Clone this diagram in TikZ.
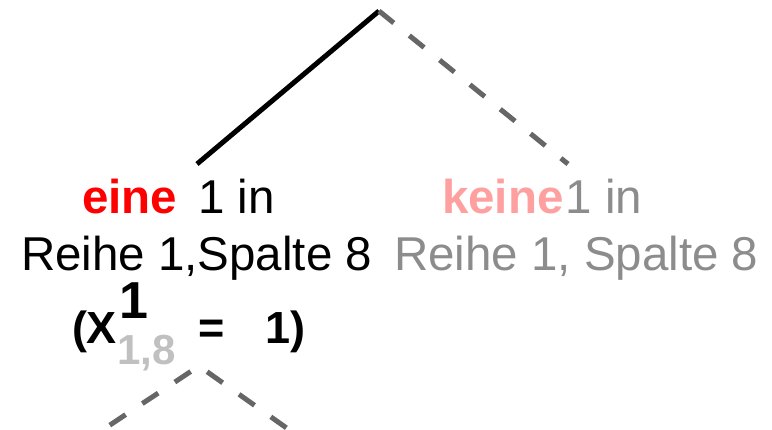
\documentclass[tikz,border=0pt]{standalone}
\usepackage{fontspec}
\setmainfont{Liberation Sans}
\definecolor{keinered}{HTML}{FFA0A0}
\definecolor{fadedtxt}{HTML}{8C8C8C}
\definecolor{subgray}{HTML}{C0C0C0}
\definecolor{dashgray}{HTML}{666666}
\begin{document}
\begin{tikzpicture}[x=1pt,y=-1pt,
  txt/.style={inner sep=0pt,outer sep=0pt,anchor=base west,font=\fontsize{47.5}{56}\selectfont},
  mathtxt/.style={txt,font=\fontsize{45}{53}\selectfont\bfseries},
  solidedge/.style={line width=5pt,black},
  dashededge/.style={line width=5pt,dashgray,dash pattern=on 19pt off 20pt}]
\useasboundingbox (0,0) rectangle (772,429);
\coordinate (root) at (379,11);
\coordinate (yes) at (197,164);
\coordinate (no) at (568,164);
\coordinate (sub) at (199,366);
\coordinate (subl) at (104,429);
\coordinate (subr) at (288,429);
\draw[solidedge] (root) -- (yes);
\draw[dashededge] (root) -- (no);
\draw[dashededge,dash phase=29pt] (sub) -- (subl);
\draw[dashededge,dash phase=29pt] (sub) -- (subr);
\node[txt] (l1) at (82,213) {\textbf{\color{red}eine}\hspace{8pt} 1 in};
\node[txt] (l2) at (21,270) {Reihe 1,Spalte 8};
\node[txt,text=fadedtxt] (r1) at (442,213) {\textbf{\color{keinered}keine}\hspace{2pt}1 in};
\node[txt,text=fadedtxt] (r2) at (394,270) {Reihe 1, Spalte 8};
\node[mathtxt] (xa) at (72,343) {(X};
\node[txt,font=\fontsize{52}{60}\selectfont\bfseries] (xsup) at (119,318) {1};
\node[txt,font=\fontsize{42}{48}\selectfont\bfseries,text=subgray] (xsub) at (117,364) {1,8};
\node[mathtxt] (xeq) at (198,343) {=};
\node[mathtxt] (xval) at (265,343) {1)};
\end{tikzpicture}
\end{document}
